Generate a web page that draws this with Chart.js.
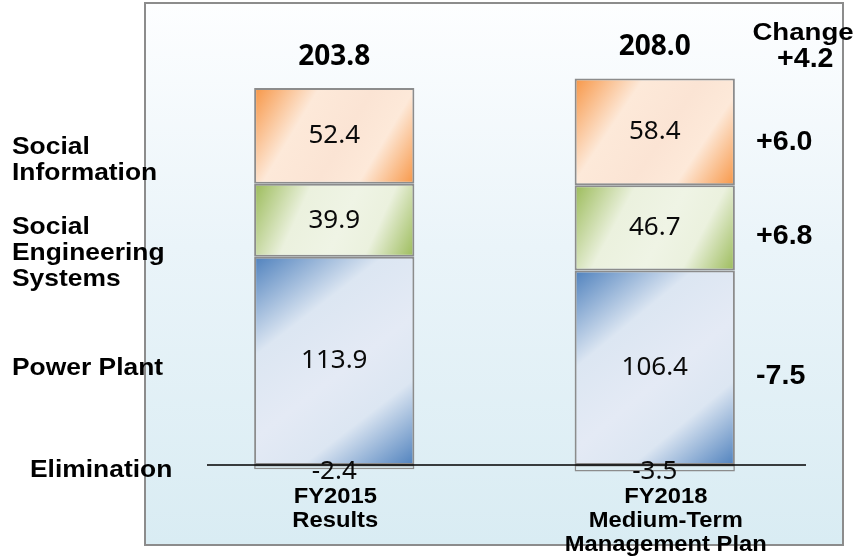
<!DOCTYPE html>
<html>
<head>
<meta charset="utf-8">
<script src="https://cdn.jsdelivr.net/npm/chart.js@4.4.1/dist/chart.umd.min.js"></script>
<style>
  html, body { margin: 0; padding: 0; background: #ffffff; }
  #wrap { width: 861px; height: 556px; position: relative; }
</style>
</head>
<body>
<div id="wrap"><canvas id="c" width="861" height="556"></canvas></div>
<script>
// ---- data ----
const categories = [["FY2015", "Results"], ["FY2018", "Medium-Term", "Management Plan"]];
const seriesNames = ["Power Plant", "Social Engineering Systems", "Social Information", "Elimination"];
const powerPlant = [113.9, 106.4];
const socialEngineering = [39.9, 46.7];
const socialInformation = [52.4, 58.4];
const elimination = [-2.4, -3.5];
const totals = [203.8, 208.0];
const totalChange = "+4.2";
const segmentChanges = ["-7.5", "+6.8", "+6.0"]; // Power Plant, Social Eng., Social Info

const seriesValues = [powerPlant, socialEngineering, socialInformation, elimination];
const palette = [
  { dark: "#4f81bd", light: "#dce6f2", light2: "#e4eaf5" },
  { dark: "#9bbb59", light: "#ebf1de", light2: "#eff4e5" },
  { dark: "#f79646", light: "#fde9d9", light2: "#fbe4d4" },
  null
];

function segmentGradient(c) {
  const chart = c.chart;
  const pal = palette[c.datasetIndex];
  if (!pal) return "rgba(220,236,242,0.6)";
  const xs = chart.scales.x, ys = chart.scales.y;
  if (!xs || !ys || c.dataIndex === undefined || !chart.chartArea) return pal.light;
  const i = c.dataIndex, di = c.datasetIndex;
  const v = seriesValues[di][i];
  let base = 0;
  for (let k = 0; k < di; k++) {
    const w = seriesValues[k][i];
    if ((w >= 0) === (v >= 0)) base += w;
  }
  const half = xs.width / 8;
  const xc = xs.getPixelForValue(i);
  const yTop = ys.getPixelForValue(base + v);
  const yBot = ys.getPixelForValue(base);
  const g = chart.ctx.createLinearGradient(xc - half, Math.min(yTop, yBot), xc + half, Math.max(yTop, yBot));
  g.addColorStop(0, pal.dark);
  g.addColorStop(0.3, pal.light);
  g.addColorStop(0.55, pal.light2);
  g.addColorStop(0.74, pal.light);
  g.addColorStop(1, pal.dark);
  return g;
}

function stretchText(ctx, text, x, y, sx, align) {
  ctx.save();
  ctx.translate(x, y);
  ctx.scale(sx, 1);
  ctx.textAlign = align || "center";
  ctx.fillText(text, 0, 0);
  ctx.restore();
}

const panelPlugin = {
  id: "panel",
  beforeDraw(chart) {
    const ctx = chart.ctx;
    const x0 = 145, y0 = 3, x1 = 843, y1 = 545;
    const g = ctx.createLinearGradient(0, y0, 0, y1);
    g.addColorStop(0, "#fdfeff");
    g.addColorStop(0.45, "#eaf4f9");
    g.addColorStop(1, "#d9ecf3");
    ctx.save();
    ctx.fillStyle = g;
    ctx.fillRect(x0, y0, x1 - x0, y1 - y0);
    ctx.strokeStyle = "#8c8c8c";
    ctx.lineWidth = 2;
    ctx.strokeRect(x0, y0, x1 - x0, y1 - y0);
    ctx.restore();
  }
};

const labelPlugin = {
  id: "labels",
  afterDatasetsDraw(chart) {
    const ctx = chart.ctx;
    const xs = chart.scales.x, ys = chart.scales.y;
    const y0 = ys.getPixelForValue(0);
    ctx.save();
    // zero line
    ctx.strokeStyle = "#000000";
    ctx.lineWidth = 1.6;
    ctx.beginPath();
    ctx.moveTo(xs.left + 33, y0);
    ctx.lineTo(xs.right - 9, y0);
    ctx.stroke();

    ctx.textBaseline = "middle";
    // segment values
    ctx.fillStyle = "#0a0a0a";
    ctx.font = "26px 'Noto Sans'";
    chart.data.datasets.forEach((ds, di) => {
      const meta = chart.getDatasetMeta(di);
      meta.data.forEach((el, i) => {
        const v = ds.data[i];
        let yc = (el.y + el.base) / 2;
        if (v < 0) yc = el.base + 7;
        stretchText(ctx, v.toFixed(1), el.x, yc, 1, "center");
      });
    });

    // totals
    ctx.font = "bold 28px 'Noto Sans'";
    ctx.fillStyle = "#000000";
    const topMeta = chart.getDatasetMeta(2);
    topMeta.data.forEach((el, i) => {
      stretchText(ctx, totals[i].toFixed(1), el.x, el.y - 31, 1, "center");
    });

    // category labels
    ctx.font = "bold 22px 'Liberation Sans'";
    const catOffsets = [1, 11];
    categories.forEach((lines, i) => {
      const xc = xs.getPixelForValue(i) + catOffsets[i];
      lines.forEach((t, j) => stretchText(ctx, t, xc, 497 + j * 24, 1.08, "center"));
    });

    // series labels on the left
    ctx.font = "bold 24px 'Liberation Sans'";
    const leftLabels = [
      { lines: ["Power Plant"], x: 12, y: 368 },
      { lines: ["Social", "Engineering", "Systems"], x: 12, y: 227 },
      { lines: ["Social", "Information"], x: 12, y: 147 },
      { lines: ["Elimination"], x: 30, y: 470 }
    ];
    leftLabels.forEach(l => {
      l.lines.forEach((t, j) => stretchText(ctx, t, l.x, l.y + j * 26, 1.1, "left"));
    });

    // change column
    ctx.font = "bold 24px 'Liberation Sans'";
    stretchText(ctx, "Change", 803, 33, 1.15, "center");
    ctx.font = "bold 27px 'Liberation Sans'";
    stretchText(ctx, totalChange, 777, 60, 1.06, "left");
    const changeY = [377, 237, 143];
    segmentChanges.forEach((t, k) => stretchText(ctx, t, 756, changeY[k], 1.06, "left"));
    ctx.restore();
  }
};

const datasets = seriesNames.map((name, di) => ({
  label: name,
  data: seriesValues[di],
  backgroundColor: segmentGradient,
  borderColor: "#8c8c8c",
  borderWidth: di === 3 ? 1.5 : 2,
  borderSkipped: false,
  categoryPercentage: 0.5,
  barPercentage: 1.0
}));

new Chart(document.getElementById("c"), {
  type: "bar",
  data: { labels: categories.map(c => c.join(" ")), datasets },
  options: {
    responsive: false,
    animation: false,
    devicePixelRatio: 1,
    layout: { padding: { left: 174, right: 46, top: 0, bottom: 0 } },
    plugins: { legend: { display: false }, tooltip: { enabled: false } },
    scales: {
      x: { display: false, stacked: true, offset: true },
      y: { display: false, stacked: true, min: -49.8, max: 254.4 }
    }
  },
  plugins: [panelPlugin, labelPlugin]
});
</script>
</body>
</html>
